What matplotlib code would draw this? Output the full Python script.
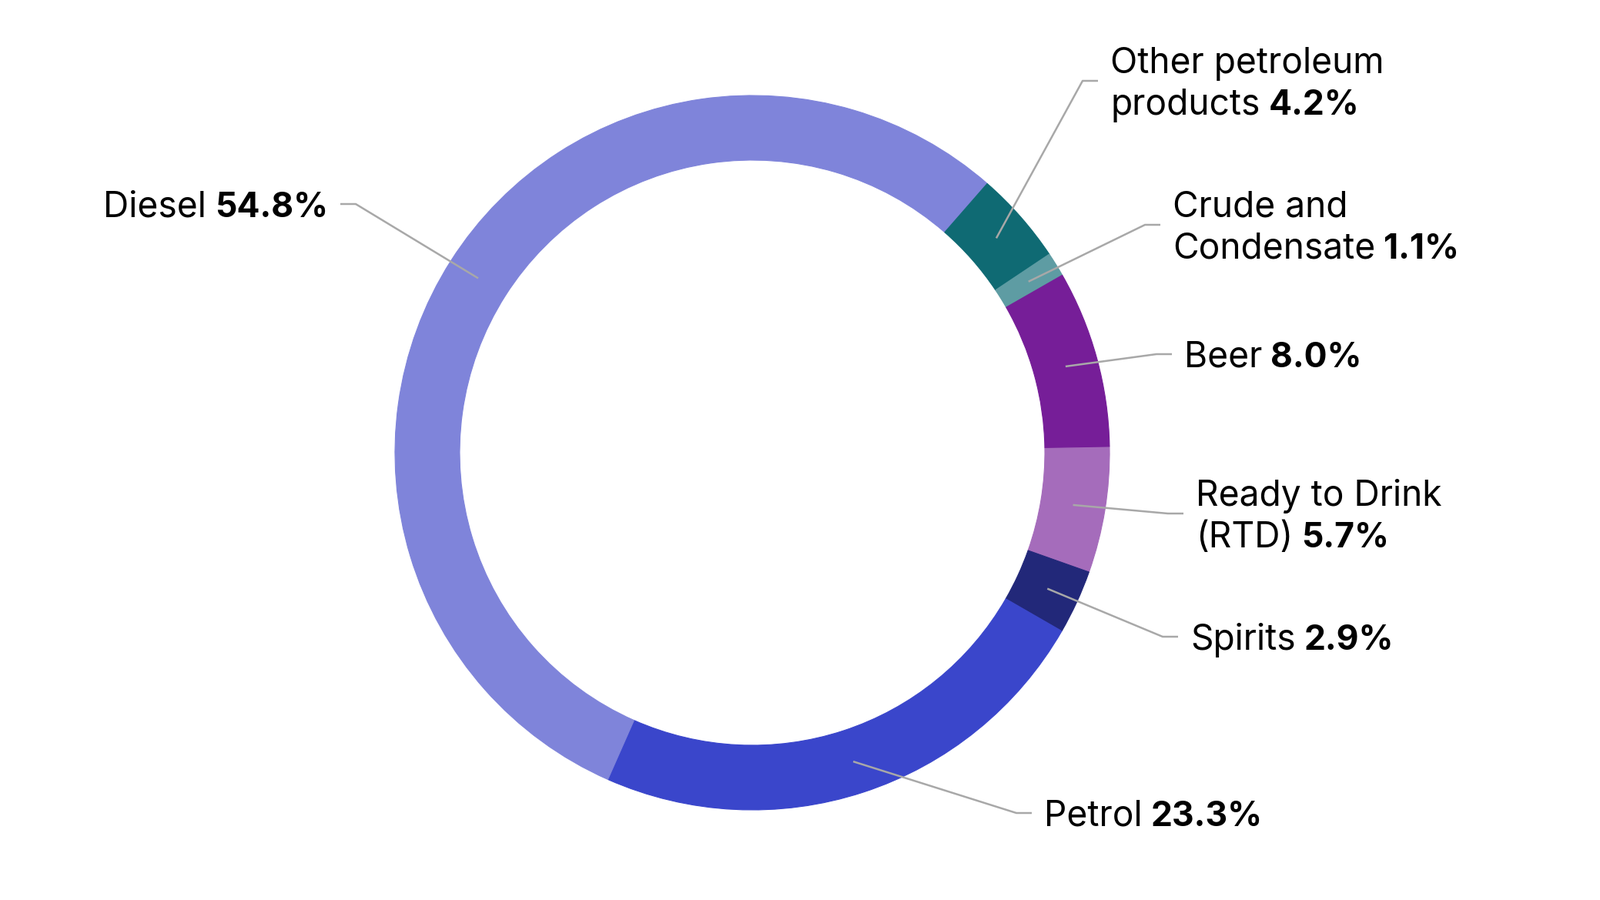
import numpy as np
import matplotlib
matplotlib.use('Agg')
from matplotlib import pyplot as plt

# shares in chart order, clockwise from 3 o'clock
labels = ['Ready to Drink\n(RTD)', 'Spirits', 'Petrol', 'Diesel',
          'Other petroleum\nproducts', 'Crude and\nCondensate', 'Beer']
shares = [5.7, 2.9, 23.3, 54.8, 4.2, 1.1, 8.0]
colors = ['#A56CBB', '#222879', '#3A46CB', '#7F84DA', '#0F6A73', '#5E9CA3', '#761E98']

# label elbow points (pixels, y down) and side of the text
elbows = [(1517, 667), (1510, 827), (1320, 1056), (462, 265),
          (1406, 105), (1487, 292), (1502, 460)]
sides = ['r', 'r', 'r', 'l', 'r', 'r', 'r']

W, H = 2078, 1169
FS = 33.2
FS_B = 32.0
FS_PX = FS * 100 / 72
CAP = 0.727 * FS_PX
LINE = 54
GAP = 0.24 * FS_PX
TXT = '#000000'
LEAD = '#A8A8A8'
FONT = ['Inter', 'DejaVu Sans']

fig = plt.figure(figsize=(W / 100, H / 100), dpi=100)
ax = fig.add_axes([0, 0, 1, 1])

cx, cy = 977, H - 588
R, ring = 464, 84
wedges, _ = ax.pie(shares, colors=colors, startangle=1, counterclock=False,
                   radius=R, center=(cx, cy), frame=True,
                   wedgeprops=dict(width=ring, linewidth=0.8))
for w in wedges:
    w.set_edgecolor(w.get_facecolor())

ax.set_xlim(0, W)
ax.set_ylim(0, H)
ax.set_aspect('auto')
ax.axis('off')

renderer = fig.canvas.get_renderer()
inv = ax.transData.inverted()


def width_of(t):
    bb = t.get_window_extent(renderer)
    return inv.transform((bb.x1, 0))[0] - inv.transform((bb.x0, 0))[0]


def draw_label(lines, pct, x, y_mid, side):
    n = len(lines)
    for i, line in enumerate(lines):
        base = y_mid + (i - (n - 1) / 2) * LINE + CAP / 2
        yb = H - base
        last = i == n - 1
        if side == 'r':
            t = ax.text(x, yb, line, fontsize=FS, family=FONT, color=TXT,
                        ha='left', va='baseline')
            if last:
                xb = x + width_of(t) + GAP
                ax.text(xb, yb, pct, fontsize=FS_B, family=FONT, color=TXT,
                        fontweight='bold', ha='left', va='baseline')
        else:
            if last:
                b = ax.text(x, yb, pct, fontsize=FS_B, family=FONT, color=TXT,
                            fontweight='bold', ha='right', va='baseline')
                xn = x - width_of(b) - GAP
            else:
                xn = x
            ax.text(xn, yb, line, fontsize=FS, family=FONT, color=TXT,
                    ha='right', va='baseline')


r_mid = R - ring / 2
for w, lab, val, (ex, ey), side in zip(wedges, labels, shares, elbows, sides):
    ang = np.deg2rad((w.theta1 + w.theta2) / 2)
    sx = cx + r_mid * np.cos(ang)
    sy = cy + r_mid * np.sin(ang)
    d = 20 if side == 'r' else -20
    ax.plot([sx, ex, ex + d], [sy, H - ey, H - ey], color=LEAD, lw=1.8,
            solid_capstyle='butt', zorder=3)
    tx = ex + d + (16 if side == 'r' else -16)
    draw_label(lab.split('\n'), f'{val:.1f}%', tx, ey, side)

fig.savefig('out.png', dpi=100, facecolor='white')
